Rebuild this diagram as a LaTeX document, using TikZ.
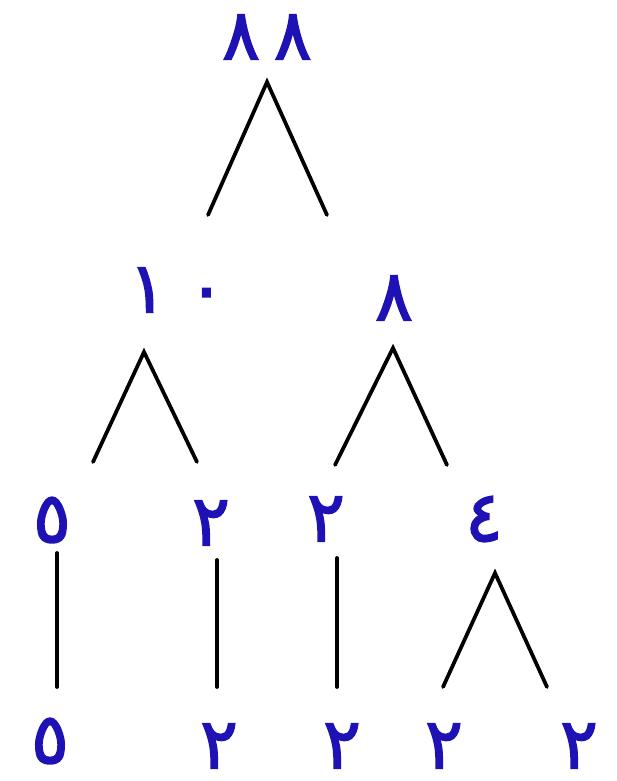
\documentclass[tikz,border=0pt]{standalone}
\usepackage{fontspec}
\newfontfamily\arabicfont[Script=Arabic,FakeBold=2.2]{DejaVu Sans}
\definecolor{numblue}{HTML}{1E12B4}
\tikzset{
  num/.style={text=numblue,inner sep=0pt,
    font=\arabicfont\fontsize{60}{66}\selectfont},
  branch/.style={line width=3.2pt,line cap=round,line join=miter}
}
\begin{document}
\begin{tikzpicture}[x=0.03cm,y=-0.03cm]
  \useasboundingbox (0,0) rectangle (617,781);
  % Numbers
  \node[num] (n88) at (267,37) {٨\hspace{0.2em}٨};
  \node[num] (n10) at (177,290) {١\hspace{0.3em}٠};
  \node[num] (n8) at (394,298) {٨};
  \node[num] (n5a) at (52,520) {٥};
  \node[num] (n2a) at (211,523) {٢};
  \node[num] (n2b) at (326,519) {٢};
  \node[num] (n4) at (484,519) {٤};
  \node[num] (n5b) at (50,741) {٥};
  \node[num] (n2c) at (219,746) {٢};
  \node[num] (n2d) at (342,746) {٢};
  \node[num] (n2e) at (444,746) {٢};
  \node[num] (n2f) at (579,746) {٢};
  % Branch points
  \coordinate (v88) at (267,82);
  \coordinate (v88l) at (208,215);
  \coordinate (v88r) at (327,215);
  \coordinate (v10) at (144,352);
  \coordinate (v10l) at (93,462);
  \coordinate (v10r) at (197,462);
  \coordinate (v8) at (393,348);
  \coordinate (v8l) at (335,465);
  \coordinate (v8r) at (447,465);
  \coordinate (v4) at (495,573);
  \coordinate (v4l) at (443,687);
  \coordinate (v4r) at (547,687);
  \coordinate (s5t) at (57,553);
  \coordinate (s5b) at (57,687);
  \coordinate (s2at) at (217,560);
  \coordinate (s2ab) at (217,687);
  \coordinate (s2bt) at (337,558);
  \coordinate (s2bb) at (337,687);
  % Branches
  \draw[branch] (v88l) -- (v88) -- (v88r);
  \draw[branch] (v10l) -- (v10) -- (v10r);
  \draw[branch] (v8l) -- (v8) -- (v8r);
  \draw[branch] (v4l) -- (v4) -- (v4r);
  \draw[branch] (s5t) -- (s5b);
  \draw[branch] (s2at) -- (s2ab);
  \draw[branch] (s2bt) -- (s2bb);
\end{tikzpicture}
\end{document}
